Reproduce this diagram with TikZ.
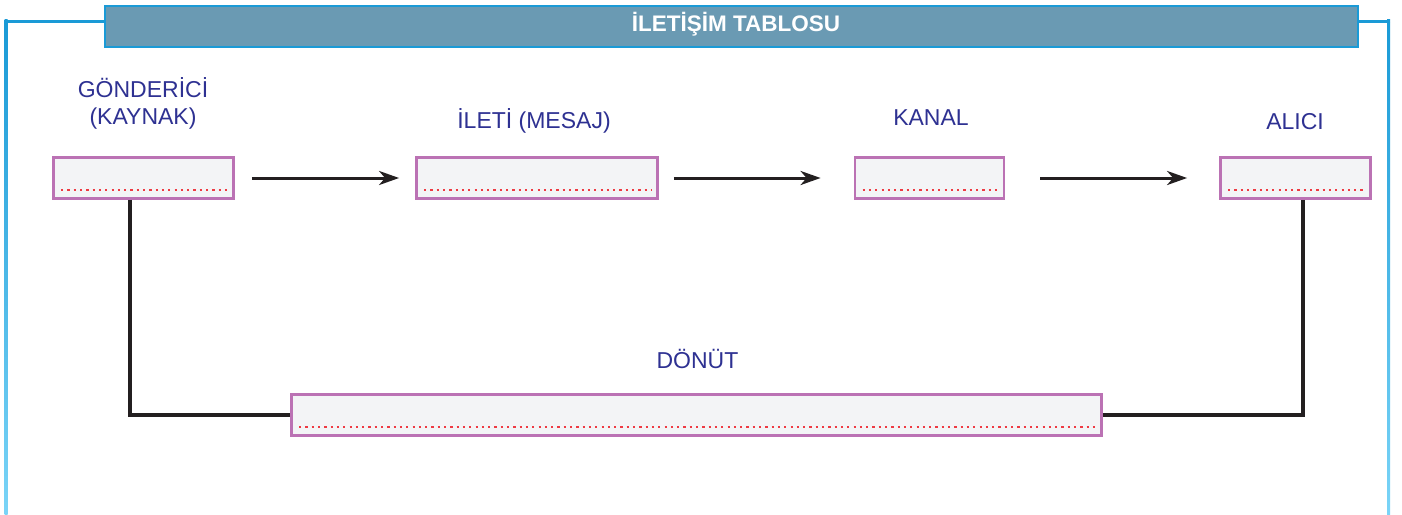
\documentclass[tikz,border=0pt]{standalone}
\usepackage{fontspec}
\setmainfont{Liberation Sans}
\usetikzlibrary{calc,arrows.meta}
\definecolor{txtblue}{HTML}{2E3192}
\definecolor{boxpurple}{HTML}{BB72B4}
\definecolor{boxfill}{HTML}{F3F4F6}
\definecolor{dotred}{HTML}{EE3A43}
\definecolor{bannerfill}{HTML}{6A9AB3}
\definecolor{framedark}{HTML}{1A9AD6}
\definecolor{framelight}{HTML}{7AD4F7}
\definecolor{linedark}{HTML}{231F20}
\begin{document}
\begin{tikzpicture}[x=1pt,y=-1pt,
  fieldbox/.style={draw=boxpurple, line width=2.8pt, fill=boxfill, minimum height=41pt, inner sep=0pt},
  lbl/.style={text=txtblue, font=\fontsize{23}{27}\selectfont, inner sep=0pt, anchor=base},
  flow/.style={draw=linedark, line width=3pt, -{Stealth[length=20pt,width=14pt,inset=6pt]}},
  fb/.style={draw=linedark, line width=3.2pt},
  dots/.style={draw=dotred, line width=2.2pt, dash pattern=on 2.2pt off 4.1pt},
  bannerbox/.style={draw=framedark, line width=2pt, fill=bannerfill, inner sep=0pt},
  titletxt/.style={text=white, font=\fontsize{22.5}{27}\selectfont\bfseries, inner sep=0pt, anchor=base}]
\useasboundingbox (0,0) rectangle (1402,514);
\fill[white] (0,0) rectangle (1402,514);

% frame
\node[bannerbox, minimum width=1253pt, minimum height=41pt] (banner) at (731.5,26.3) {};
\node[titletxt] (title) at (736,31.7) {İLETİŞİM TABLOSU};
\coordinate (ftl) at (4.5,21);
\coordinate (ftr) at (1390,21);
\draw[framedark, line width=3pt] (ftl) -- (banner.west |- ftl);
\draw[framedark, line width=3pt] (ftr) -- (banner.east |- ftr);
\shade[top color=framedark, bottom color=framelight] (4.5,19.5) rectangle (7.5,514);
\shade[top color=framedark, bottom color=framelight] (1387,19.5) rectangle (1390,514);

% labels
\node[lbl] (g1) at (143,97) {GÖNDERİCİ};
\node[lbl] (g2) at (143,124) {(KAYNAK)};
\node[lbl] (ileti) at (534,128) {İLETİ (MESAJ)};
\node[lbl] (kanal) at (931,125) {KANAL};
\node[lbl] (alici) at (1295,129) {ALICI};
\node[lbl] (donut) at (697.5,368) {DÖNÜT};

% boxes
\node[fieldbox, minimum width=180pt] (b1) at (143.5,178) {};
\node[fieldbox, minimum width=241pt] (b2) at (537,178) {};
\node[fieldbox, minimum width=149pt] (b3) at (929.5,178) {};
\node[fieldbox, minimum width=150pt] (b4) at (1295.5,178) {};
\node[fieldbox, minimum width=810pt] (bd) at (696.5,415) {};

% dotted lines
\foreach \b in {b1,b2,b3,b4,bd}{
  \draw[dots] ($(\b.south west)+(9,-10)$) -- ($(\b.south east)+(-7,-10)$);
}

% arrows
\draw[flow, shorten <=17pt, shorten >=16pt] (b1.east) -- (b2.west);
\draw[flow, shorten <=15pt, shorten >=33pt] (b2.east) -- (b3.west);
\draw[flow, shorten <=35pt, shorten >=32pt] (b3.east) -- (b4.west);

% feedback
\coordinate (fbl) at ($(b1.south)+(-13.5,0)$);
\coordinate (fbr) at ($(b4.south)+(7.5,0)$);
\draw[fb] (fbl) -- (fbl |- bd.west) -- (bd.west);
\draw[fb] (fbr) -- (fbr |- bd.east) -- (bd.east);
\end{tikzpicture}
\end{document}
